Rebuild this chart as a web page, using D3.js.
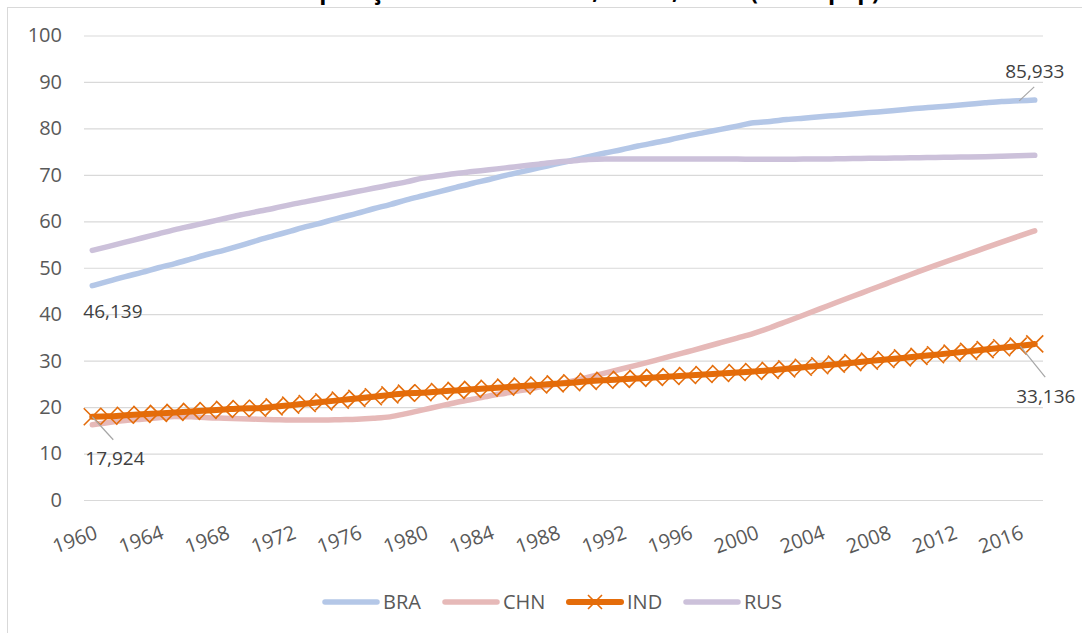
<!DOCTYPE html>
<html>
<head>
<meta charset="utf-8">
<script src="https://cdn.jsdelivr.net/npm/d3@7"></script>
<style>
  html, body { margin: 0; padding: 0; background: #ffffff; }
  svg { display: block; }
  text { font-family: "Open Sans", "Noto Sans", sans-serif; }
</style>
</head>
<body>
<svg id="chart" width="1082" height="633"></svg>
<script>
const years = d3.range(1960, 2018);
const yTicks = [0, 10, 20, 30, 40, 50, 60, 70, 80, 90, 100];
const xTickYears = [1960, 1964, 1968, 1972, 1976, 1980, 1984, 1988, 1992, 1996, 2000, 2004, 2008, 2012, 2016];
const seriesNames = ["BRA", "CHN", "IND", "RUS"];
const titleText = "População urbana – Brasil, China, Índia (em % pop)";

const BRA = [46.139, 47.1, 48.1, 49.0, 50.0, 50.9, 51.9, 52.9, 53.8, 54.8,
  55.9, 56.9, 57.9, 58.9, 59.8, 60.8, 61.7, 62.7, 63.6, 64.6,
  65.5, 66.4, 67.3, 68.2, 69.0, 69.9, 70.7, 71.5, 72.3, 73.1,
  73.9, 74.7, 75.4, 76.2, 76.9, 77.6, 78.4, 79.1, 79.8, 80.5,
  81.2, 81.5, 81.9, 82.2, 82.5, 82.8, 83.1, 83.4, 83.7, 84.0,
  84.34, 84.6, 84.9, 85.2, 85.5, 85.77, 85.933, 86.09];
const CHN = [16.2, 16.7, 17.1, 17.4, 17.7, 18.0, 17.9, 17.7, 17.6, 17.5,
  17.4, 17.3, 17.2, 17.2, 17.2, 17.3, 17.4, 17.6, 17.9, 18.6,
  19.4, 20.2, 21.0, 21.7, 22.4, 23.0, 23.6, 24.3, 24.9, 25.6,
  26.44, 27.31, 28.2, 29.1, 30.02, 30.96, 31.92, 32.88, 33.87, 34.87,
  35.88, 37.09, 38.43, 39.78, 41.14, 42.52, 43.87, 45.2, 46.54, 47.88,
  49.23, 50.51, 51.77, 53.01, 54.26, 55.5, 56.74, 57.96];
const IND = [17.924, 18.03, 18.24, 18.44, 18.65, 18.86, 19.07, 19.28, 19.5, 19.71,
  19.76, 20.06, 20.42, 20.77, 21.13, 21.5, 21.87, 22.24, 22.62, 23.0,
  23.1, 23.36, 23.59, 23.82, 24.06, 24.29, 24.53, 24.77, 25.01, 25.25,
  25.55, 25.78, 25.98, 26.18, 26.39, 26.6, 26.81, 27.02, 27.24, 27.45,
  27.67, 27.92, 28.24, 28.57, 28.9, 29.24, 29.57, 29.91, 30.25, 30.59,
  30.93, 31.28, 31.63, 32.0, 32.38, 32.78, 33.136, 33.6];
const RUS = [53.73, 54.6, 55.5, 56.4, 57.3, 58.2, 59.0, 59.8, 60.6, 61.4,
  62.1, 62.8, 63.6, 64.3, 65.0, 65.7, 66.4, 67.1, 67.8, 68.5,
  69.3, 69.8, 70.3, 70.7, 71.1, 71.5, 71.9, 72.3, 72.7, 73.0,
  73.3, 73.4, 73.4, 73.4, 73.4, 73.4, 73.4, 73.4, 73.4, 73.4,
  73.35, 73.35, 73.35, 73.4, 73.4, 73.45, 73.5, 73.55, 73.6, 73.65,
  73.7, 73.75, 73.8, 73.85, 73.9, 74.0, 74.1, 74.2];

const seriesData = { BRA, CHN, IND, RUS };
const colors = { BRA: "#b4c7e7", CHN: "#e6b9b8", IND: "#e46c0a", RUS: "#ccc1da" };

const svg = d3.select("#chart");
const plotLeft = 84, plotRight = 1043, plotTop = 35.5, plotBottom = 500;

// outer chart border
svg.append("rect")
  .attr("x", 7.5).attr("y", 7.5)
  .attr("width", 1090).attr("height", 650)
  .attr("fill", "none").attr("stroke", "#d9d9d9").attr("stroke-width", 1);

// title (mostly cut off at top, as in the reference)
svg.append("text")
  .attr("x", 290).attr("y", -1)
  .attr("textLength", 590).attr("lengthAdjust", "spacingAndGlyphs")
  .attr("font-size", 27).attr("font-weight", "bold").attr("fill", "#000")
  .text(titleText);

const x = d3.scalePoint().domain(years).range([plotLeft, plotRight]).padding(0.5);
const y = d3.scaleLinear().domain([0, 100]).range([plotBottom, plotTop]);

// y axis with gridlines
const yAxis = svg.append("g")
  .attr("transform", `translate(${plotLeft},0)`)
  .call(d3.axisLeft(y).tickValues(yTicks).tickSize(-(plotRight - plotLeft)).tickPadding(22));
yAxis.select(".domain").remove();
yAxis.selectAll(".tick line").attr("stroke", "#d9d9d9").attr("stroke-width", 1.2);
yAxis.selectAll(".tick text")
  .attr("font-size", 20).attr("fill", "#595959")
  .attr("font-family", "Open Sans");

// x axis labels
const xAxis = svg.append("g")
  .attr("transform", `translate(0,${plotBottom})`)
  .call(d3.axisBottom(x).tickValues(xTickYears).tickSize(0).tickFormat(d => String(d)));
xAxis.select(".domain").remove();
xAxis.selectAll(".tick text")
  .attr("font-size", 20).attr("fill", "#595959")
  .attr("font-family", "Open Sans")
  .attr("text-anchor", "end")
  .attr("y", 0).attr("dy", 0)
  .attr("transform", "translate(6,38) rotate(-20)");

// lines
const line = d3.line()
  .x((d, i) => x(years[i]))
  .y(d => y(d))
  .curve(d3.curveMonotoneX);

const linesG = svg.append("g");
seriesNames.forEach(name => {
  linesG.append("path")
    .datum(seriesData[name])
    .attr("d", line)
    .attr("fill", "none")
    .attr("stroke", colors[name])
    .attr("stroke-width", name === "IND" ? 6 : 5.5)
    .attr("stroke-linecap", "round")
    .attr("stroke-linejoin", "round");
  if (name === "IND") {
    const xs = 8.5;
    linesG.append("g").selectAll("path")
      .data(seriesData[name])
      .join("path")
      .attr("transform", (d, i) => `translate(${x(years[i])},${y(d)})`)
      .attr("d", `M${-xs},${-xs}L${xs},${xs}M${-xs},${xs}L${xs},${-xs}`)
      .attr("stroke", colors[name])
      .attr("stroke-width", 1.6)
      .attr("fill", "none");
  }
});

// data labels
const labelsG = svg.append("g").attr("font-size", 19).attr("fill", "#404040");
function fmt(v) { return String(v).replace(".", ","); }
const iFirst = 0, i2016 = years.indexOf(2016);

// BRA first
labelsG.append("text")
  .attr("x", x(years[iFirst]) - 9).attr("y", y(BRA[iFirst]) + 32)
  .text(fmt(BRA[iFirst]));
// IND first
labelsG.append("text")
  .attr("x", x(years[iFirst]) - 7).attr("y", y(IND[iFirst]) + 48)
  .text(fmt(IND[iFirst]));
svg.append("line")
  .attr("x1", x(years[iFirst])).attr("y1", y(IND[iFirst]))
  .attr("x2", x(years[iFirst]) + 21).attr("y2", y(IND[iFirst]) + 23)
  .attr("stroke", "#a6a6a6").attr("stroke-width", 1.2);
// BRA 2016
labelsG.append("text")
  .attr("x", x(2016) - 13).attr("y", y(BRA[i2016]) - 23)
  .text(fmt(BRA[i2016]));
svg.append("line")
  .attr("x1", x(2016) + 1).attr("y1", y(BRA[i2016]))
  .attr("x2", x(2016) + 16).attr("y2", y(BRA[i2016]) - 14)
  .attr("stroke", "#a6a6a6").attr("stroke-width", 1.2);
// IND 2016
labelsG.append("text")
  .attr("x", x(2016) - 2).attr("y", y(IND[i2016]) + 57)
  .text(fmt(IND[i2016]));
svg.append("line")
  .attr("x1", x(2016) + 2).attr("y1", y(IND[i2016]))
  .attr("x2", x(2016) + 27).attr("y2", y(IND[i2016]) + 31)
  .attr("stroke", "#a6a6a6").attr("stroke-width", 1.2);

// legend
const legendItems = [
  { name: "BRA", x0: 323 },
  { name: "CHN", x0: 443 },
  { name: "IND", x0: 567 },
  { name: "RUS", x0: 684 }
];
const legendY = 602;
const lg = svg.append("g");
legendItems.forEach(it => {
  lg.append("line")
    .attr("x1", it.x0 + 2).attr("x2", it.x0 + 54)
    .attr("y1", legendY).attr("y2", legendY)
    .attr("stroke", colors[it.name])
    .attr("stroke-width", it.name === "IND" ? 6 : 5.5)
    .attr("stroke-linecap", "round");
  if (it.name === "IND") {
    const cx = it.x0 + 28, s = 7;
    lg.append("path")
      .attr("d", `M${cx - s},${legendY - s}L${cx + s},${legendY + s}M${cx - s},${legendY + s}L${cx + s},${legendY - s}`)
      .attr("stroke", colors[it.name]).attr("stroke-width", 1.6).attr("fill", "none");
  }
  lg.append("text")
    .attr("x", it.x0 + 60).attr("y", legendY + 7)
    .attr("font-size", 20).attr("fill", "#595959")
    .text(it.name);
});
</script>
</body>
</html>
